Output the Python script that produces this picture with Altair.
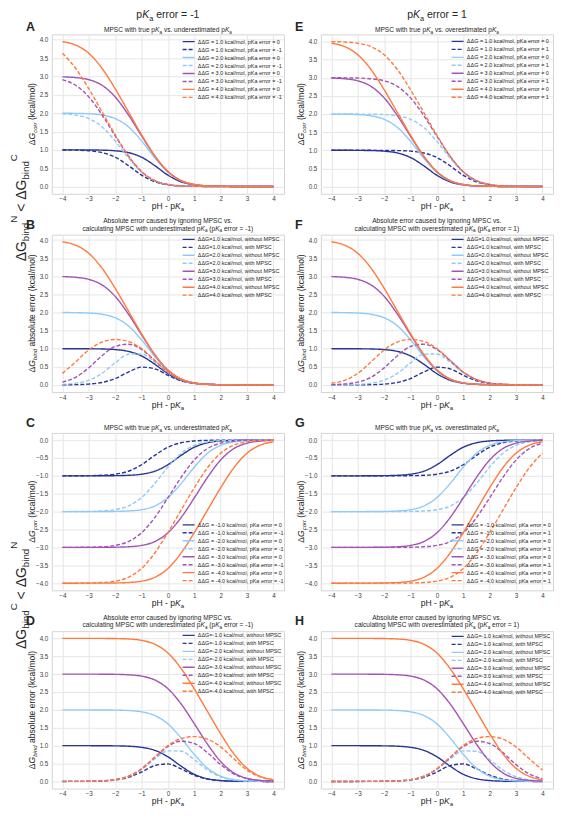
import altair as alt
import pandas as pd

# ---------------- data ----------------
X = [-4.0, -3.5, -3.0, -2.5, -2.0, -1.5, -1.0, -0.5, 0.0, 0.5, 1.0, 1.5, 2.0, 2.5, 3.0, 3.5, 4.0]
DDG = [1, 2, 3, 4]

# ddG > 0 : MPSC with true pKa (solid in A, B, E, F)
POS_TRUE = {
    1: [1.000, 0.999, 0.997, 0.992, 0.975, 0.925, 0.800, 0.572, 0.310, 0.129, 0.046, 0.015, 0.005, 0.002, 0.000, 0.000, 0.000],
    2: [1.998, 1.995, 1.984, 1.949, 1.854, 1.630, 1.246, 0.784, 0.391, 0.156, 0.054, 0.018, 0.006, 0.002, 0.001, 0.000, 0.000],
    3: [2.991, 2.971, 2.914, 2.762, 2.444, 1.957, 1.384, 0.833, 0.407, 0.162, 0.056, 0.018, 0.006, 0.002, 0.001, 0.000, 0.000],
    4: [3.951, 3.858, 3.634, 3.226, 2.668, 2.043, 1.414, 0.843, 0.410, 0.163, 0.056, 0.018, 0.006, 0.002, 0.001, 0.000, 0.000],
}
# A dashed: pKa error = -1
POS_UNDER = {
    1: [0.997, 0.992, 0.975, 0.925, 0.800, 0.572, 0.310, 0.129, 0.046, 0.015, 0.005, 0.002, 0.000, 0.000, 0.000, 0.000, 0.000],
    2: [1.984, 1.949, 1.854, 1.630, 1.246, 0.784, 0.391, 0.156, 0.054, 0.018, 0.006, 0.002, 0.001, 0.000, 0.000, 0.000, 0.000],
    3: [2.914, 2.762, 2.444, 1.957, 1.384, 0.833, 0.407, 0.162, 0.056, 0.018, 0.006, 0.002, 0.001, 0.000, 0.000, 0.000, 0.000],
    4: [3.634, 3.226, 2.668, 2.043, 1.414, 0.843, 0.410, 0.163, 0.056, 0.018, 0.006, 0.002, 0.001, 0.000, 0.000, 0.000, 0.000],
}
# E dashed: pKa error = 1
POS_OVER = {
    1: [1.000, 1.000, 1.000, 0.999, 0.997, 0.992, 0.975, 0.925, 0.800, 0.572, 0.310, 0.129, 0.046, 0.015, 0.005, 0.002, 0.000],
    2: [2.000, 2.000, 1.998, 1.995, 1.984, 1.949, 1.854, 1.630, 1.246, 0.784, 0.391, 0.156, 0.054, 0.018, 0.006, 0.002, 0.001],
    3: [2.999, 2.997, 2.991, 2.971, 2.914, 2.762, 2.444, 1.957, 1.384, 0.833, 0.407, 0.162, 0.056, 0.018, 0.006, 0.002, 0.001],
    4: [3.995, 3.984, 3.951, 3.858, 3.634, 3.226, 2.668, 2.043, 1.414, 0.843, 0.410, 0.163, 0.056, 0.018, 0.006, 0.002, 0.001],
}
# B dashed: abs. error with MPSC, pKa error = -1
POS_ERR_UNDER = {
    1: [0.003, 0.007, 0.022, 0.067, 0.175, 0.353, 0.490, 0.443, 0.264, 0.114, 0.041, 0.013, 0.005, 0.002, 0.000, 0.000, 0.000],
    2: [0.014, 0.046, 0.130, 0.319, 0.608, 0.846, 0.855, 0.628, 0.337, 0.138, 0.048, 0.016, 0.005, 0.002, 0.001, 0.000, 0.000],
    3: [0.077, 0.209, 0.470, 0.805, 1.060, 1.124, 0.977, 0.671, 0.351, 0.144, 0.050, 0.016, 0.005, 0.002, 0.001, 0.000, 0.000],
    4: [0.317, 0.632, 0.966, 1.183, 1.254, 1.200, 1.004, 0.680, 0.354, 0.145, 0.050, 0.016, 0.005, 0.002, 0.001, 0.000, 0.000],
}
# F dashed: abs. error with MPSC, pKa error = 1
POS_ERR_OVER = {
    1: [0.000, 0.001, 0.003, 0.007, 0.022, 0.067, 0.175, 0.353, 0.490, 0.443, 0.264, 0.114, 0.041, 0.013, 0.005, 0.002, 0.000],
    2: [0.002, 0.005, 0.014, 0.046, 0.130, 0.319, 0.608, 0.846, 0.855, 0.628, 0.337, 0.138, 0.048, 0.016, 0.005, 0.002, 0.001],
    3: [0.008, 0.026, 0.077, 0.209, 0.470, 0.805, 1.060, 1.124, 0.977, 0.671, 0.351, 0.144, 0.050, 0.016, 0.005, 0.002, 0.001],
    4: [0.044, 0.126, 0.317, 0.632, 0.966, 1.183, 1.254, 1.200, 1.004, 0.680, 0.354, 0.145, 0.050, 0.016, 0.005, 0.002, 0.001],
}
# ddG < 0 : MPSC with true pKa (solid in C, G)
NEG_TRUE = {
    1: [-1.000, -1.000, -1.000, -0.998, -0.995, -0.985, -0.954, -0.871, -0.690, -0.428, -0.200, -0.075, -0.025, -0.008, -0.003, -0.001, 0.000],
    2: [-2.000, -2.000, -1.999, -1.998, -1.994, -1.982, -1.946, -1.844, -1.609, -1.216, -0.754, -0.370, -0.146, -0.051, -0.016, -0.005, -0.002],
    3: [-3.000, -3.000, -2.999, -2.998, -2.994, -2.982, -2.944, -2.838, -2.593, -2.167, -1.616, -1.043, -0.556, -0.238, -0.086, -0.029, -0.009],
    4: [-4.000, -4.000, -3.999, -3.998, -3.994, -3.982, -3.944, -3.837, -3.590, -3.157, -2.586, -1.957, -1.332, -0.774, -0.366, -0.142, -0.049],
}
# C dashed: pKa error = -1
NEG_UNDER = {
    1: [-1.000, -0.998, -0.995, -0.985, -0.954, -0.871, -0.690, -0.428, -0.200, -0.075, -0.025, -0.008, -0.003, -0.001, 0.000, 0.000, 0.000],
    2: [-1.999, -1.998, -1.994, -1.982, -1.946, -1.844, -1.609, -1.216, -0.754, -0.370, -0.146, -0.051, -0.016, -0.005, -0.002, 0.000, 0.000],
    3: [-2.999, -2.998, -2.994, -2.982, -2.944, -2.838, -2.593, -2.167, -1.616, -1.043, -0.556, -0.238, -0.086, -0.029, -0.009, -0.003, -0.001],
    4: [-3.999, -3.998, -3.994, -3.982, -3.944, -3.837, -3.590, -3.157, -2.586, -1.957, -1.332, -0.774, -0.366, -0.142, -0.049, -0.016, -0.005],
}
# G dashed: pKa error = 1
NEG_OVER = {
    1: [-1.000, -1.000, -1.000, -1.000, -1.000, -0.998, -0.995, -0.985, -0.954, -0.871, -0.690, -0.428, -0.200, -0.075, -0.025, -0.008, -0.003],
    2: [-2.000, -2.000, -2.000, -2.000, -1.999, -1.998, -1.994, -1.982, -1.946, -1.844, -1.609, -1.216, -0.754, -0.370, -0.146, -0.051, -0.016],
    3: [-3.000, -3.000, -3.000, -3.000, -2.999, -2.998, -2.994, -2.982, -2.944, -2.838, -2.593, -2.167, -1.616, -1.043, -0.556, -0.238, -0.086],
    4: [-4.000, -4.000, -4.000, -4.000, -3.999, -3.998, -3.994, -3.982, -3.944, -3.837, -3.590, -3.157, -2.586, -1.957, -1.332, -0.774, -0.366],
}
# D, H solid: abs. error without MPSC
NEG_ABS = {
    1: [1.000, 1.000, 1.000, 0.998, 0.995, 0.985, 0.954, 0.871, 0.690, 0.428, 0.200, 0.075, 0.025, 0.008, 0.003, 0.001, 0.000],
    2: [2.000, 2.000, 1.999, 1.998, 1.994, 1.982, 1.946, 1.844, 1.609, 1.216, 0.754, 0.370, 0.146, 0.051, 0.016, 0.005, 0.002],
    3: [3.000, 3.000, 2.999, 2.998, 2.994, 2.982, 2.944, 2.838, 2.593, 2.167, 1.616, 1.043, 0.556, 0.238, 0.086, 0.029, 0.009],
    4: [4.000, 4.000, 3.999, 3.998, 3.994, 3.982, 3.944, 3.837, 3.590, 3.157, 2.586, 1.957, 1.332, 0.774, 0.366, 0.142, 0.049],
}
# D dashed: abs. error with MPSC, pKa error = -1
NEG_ERR_UNDER = {
    1: [0.000, 0.002, 0.005, 0.013, 0.041, 0.114, 0.264, 0.443, 0.490, 0.353, 0.175, 0.067, 0.022, 0.007, 0.003, 0.001, 0.000],
    2: [0.001, 0.002, 0.005, 0.016, 0.048, 0.138, 0.337, 0.628, 0.855, 0.846, 0.608, 0.319, 0.130, 0.046, 0.014, 0.005, 0.002],
    3: [0.001, 0.002, 0.005, 0.016, 0.050, 0.144, 0.351, 0.671, 0.977, 1.124, 1.060, 0.805, 0.470, 0.209, 0.077, 0.026, 0.008],
    4: [0.001, 0.002, 0.005, 0.016, 0.050, 0.145, 0.354, 0.680, 1.004, 1.200, 1.254, 1.183, 0.966, 0.632, 0.317, 0.126, 0.044],
}
# H dashed: abs. error with MPSC, pKa error = 1
NEG_ERR_OVER = {
    1: [0.000, 0.000, 0.000, 0.002, 0.005, 0.013, 0.041, 0.114, 0.264, 0.443, 0.490, 0.353, 0.175, 0.067, 0.022, 0.007, 0.003],
    2: [0.000, 0.000, 0.001, 0.002, 0.005, 0.016, 0.048, 0.138, 0.337, 0.628, 0.855, 0.846, 0.608, 0.319, 0.130, 0.046, 0.014],
    3: [0.000, 0.000, 0.001, 0.002, 0.005, 0.016, 0.050, 0.144, 0.351, 0.671, 0.977, 1.124, 1.060, 0.805, 0.470, 0.209, 0.077],
    4: [0.000, 0.000, 0.001, 0.002, 0.005, 0.016, 0.050, 0.145, 0.354, 0.680, 1.004, 1.200, 1.254, 1.183, 0.966, 0.632, 0.317],
}

X_TICKS = [-4, -3, -2, -1, 0, 1, 2, 3, 4]
Y_TICKS_POS = [0.0, 0.5, 1.0, 1.5, 2.0, 2.5, 3.0, 3.5, 4.0]
Y_TICKS_NEG = [-4.0, -3.5, -3.0, -2.5, -2.0, -1.5, -1.0, -0.5, 0.0]

# ---------------- styling ----------------
FONT = "Liberation Sans"
INK = "#262626"
COLORS = {1: "#283593", 2: "#90caf9", 3: "#a354b3", 4: "#ff7a3c"}
SOLID = [1, 0]
DASHED = [4, 2]
W = 233
HEIGHTS = [160, 158, 158, 158]
ONE = pd.DataFrame({"k": [0]})

ADV = {" ": .278, "(": .333, ")": .333, ",": .278, "-": .333, ".": .278, "/": .278, "<": .584, "=": .584,
       "A": .667, "B": .667, "C": .722, "D": .722, "E": .667, "F": .611, "G": .778, "H": .722, "I": .278,
       "K": .667, "M": .833, "N": .722, "P": .667, "S": .667,
       "a": .556, "b": .556, "c": .5, "d": .556, "e": .556, "f": .278, "g": .556, "h": .556, "i": .222,
       "k": .5, "l": .222, "m": .833, "n": .556, "o": .556, "p": .556, "r": .333, "s": .5, "t": .278,
       "u": .556, "v": .5, "w": .722, "x": .5, "y": .5, "\u0394": .668}


def tw(s, size):
    return sum(ADV.get(c, 0.556) for c in s) * size


def rich(segs, x, y, size, angle=0, anchor="middle", bold=False):
    total = sum(tw(t, size * sc) for t, it, sc, sh in segs)
    pos = {"middle": -total / 2, "start": 0, "end": -total}[anchor]
    out = []
    for t, it, sc, sh in segs:
        fs = size * sc
        lead = len(t) - len(t.lstrip(" "))
        p0 = pos + lead * 0.278 * fs
        if angle == 0:
            px, py = x + p0, y + sh * size
        else:
            px, py = x + sh * size, y - p0
        out.append(
            alt.Chart(ONE).mark_text(
                text=t.strip(" "), align="left", baseline="alphabetic", font=FONT, fontSize=fs,
                fontStyle="italic" if it else "normal", fontWeight="bold" if bold else "normal",
                angle=angle, color=INK,
            ).encode(x=alt.value(px), y=alt.value(py))
        )
        pos += tw(t, fs)
    return out


def pka(italic_a=False):
    return [("K", True, 1, 0), ("a", italic_a, 0.7, 0.25)]


def panel(key, row, col, series, ydom, yticks, legend_y, title_lines, ysub, yrest, col_title=None, left_label=None):
    H = HEIGHTS[row]
    recs = []
    labels, colors, dashes = [], [], []
    for lab, vals, colr, dash in series:
        labels.append(lab)
        colors.append(colr)
        dashes.append(dash)
        for xv, yv in zip(X, vals):
            recs.append({"x": xv, "y": yv, "s": lab})
    df = pd.DataFrame(recs)
    leg = alt.Legend(orient="none", legendX=134.5, legendY=legend_y, title=None, labelFontSize=5.5,
                     labelFont=FONT, labelColor=INK, symbolType="M-4,0H4", symbolSize=9,
                     symbolStrokeWidth=1.4, rowPadding=0, labelOffset=6.5, padding=0,
                     labelLimit=300, symbolLimit=0)
    lines = alt.Chart(df).mark_line(interpolate="monotone", strokeWidth=1.4, clip=True).encode(
        x=alt.X("x:Q", scale=alt.Scale(domain=[-4.4, 4.4], nice=False, zero=False),
                axis=alt.Axis(values=X_TICKS, format="d", title=None, labelPadding=2)),
        y=alt.Y("y:Q", scale=alt.Scale(domain=ydom, nice=False, zero=False),
                axis=alt.Axis(values=yticks, format=".1f", title=None, labelPadding=4)),
        color=alt.Color("s:N", scale=alt.Scale(domain=labels, range=colors), legend=leg),
        strokeDash=alt.StrokeDash("s:N", scale=alt.Scale(domain=labels, range=dashes), legend=leg),
    )
    layers = [lines]
    # panel letter
    letter_y = -3.0 if row == 0 else -6.0
    layers += rich([(key, False, 1, 0)], -26, letter_y, 12.5, anchor="start", bold=True)
    # panel title
    if len(title_lines) == 1:
        layers += rich(title_lines[0], W / 2, -2.5, 6.6)
    else:
        layers += rich(title_lines[0], W / 2, -11.5, 6.6)
        layers += rich(title_lines[1], W / 2, -4, 6.6)
    # axis titles
    layers += rich([("\u0394", False, 1, 0), ("G", True, 1, 0), (ysub, True, 0.7, 0.25), (yrest, False, 1, 0)],
                   -17, H / 2, 8.6, angle=270)
    layers += rich([("pH - p", False, 1, 0)] + pka(), W / 2, H + 15.5, 8.6)
    if col_title:
        layers += rich([("p", False, 1, 0)] + pka() + [(col_title, False, 1, 0)], W / 2, -16, 10.5)
    if left_label:
        cy, a, b = left_label
        segs = [("\u0394G", False, 1, 0), ("bind", False, 0.7, 0.25), (a, False, 0.7, -0.65),
                (" < ", False, 1, 0), ("\u0394G", False, 1, 0), ("bind", False, 0.7, 0.25), (b, False, 0.7, -0.65)]
        layers += rich(segs, -26, cy, 14, angle=270)
    return alt.layer(*layers).properties(width=W, height=H)


def series_pkerr(true_d, other_d, sign, other_tag):
    out = []
    for d in DDG:
        dd = f"{sign}{d:.1f}"
        out.append((f"\u0394\u0394G = {dd} kcal/mol, pKa error =  0", true_d[d], COLORS[d], SOLID))
        out.append((f"\u0394\u0394G = {dd} kcal/mol, pKa error = {other_tag}", other_d[d], COLORS[d], DASHED))
    return out


def series_err(without_d, with_d, sign):
    out = []
    for d in DDG:
        dd = f"{sign}{d:.1f}"
        out.append((f"\u0394\u0394G={dd} kcal/mol, without MPSC", without_d[d], COLORS[d], SOLID))
        out.append((f"\u0394\u0394G={dd} kcal/mol, with MPSC", with_d[d], COLORS[d], DASHED))
    return out


N = (False, 1, 0)
T_UNDER = [[("MPSC with true p", *N)] + pka() + [(" vs. underestimated p", *N)] + pka()]
T_OVER = [[("MPSC with true p", *N)] + pka() + [(" vs. overestimated p", *N)] + pka()]
T_ERR_UNDER = [[("Absolute error caused by ignoring MPSC vs.", *N)],
               [("calculating MPSC with underestimated p", *N)] + pka() + [(" (p", *N)] + pka() + [(" error = -1)", *N)]]
T_ERR_OVER = [[("Absolute error caused by ignoring MPSC vs.", *N)],
              [("calculating MPSC with overestimated p", *N)] + pka() + [(" (p", *N)] + pka() + [(" error = 1)", *N)]]

YD_A = [-0.198, 4.149]
YD_E = [-0.2, 4.195]
YD_NEG = [-4.2, 0.2]
YD_D = [-0.2, 4.2]

A = panel("A", 0, 0, series_pkerr(POS_TRUE, POS_UNDER, "", "-1"), YD_A, Y_TICKS_POS, 4.5, T_UNDER,
          "corr", " (kcal/mol)", col_title=" error = -1", left_label=(174, "N", "C"))
E = panel("E", 0, 1, series_pkerr(POS_TRUE, POS_OVER, "", " 1"), YD_E, Y_TICKS_POS, 4.3, T_OVER,
          "corr", " (kcal/mol)", col_title=" error = 1")
B = panel("B", 1, 0, series_err(POS_TRUE, POS_ERR_UNDER, ""), YD_A, Y_TICKS_POS, 2.0, T_ERR_UNDER,
          "bind", " absolute error (kcal/mol)")
F = panel("F", 1, 1, series_err(POS_TRUE, POS_ERR_OVER, ""), YD_A, Y_TICKS_POS, 2.0, T_ERR_OVER,
          "bind", " absolute error (kcal/mol)")
C = panel("C", 2, 0, series_pkerr(NEG_TRUE, NEG_UNDER, "-", "-1"), YD_NEG, Y_TICKS_NEG, 89.5, T_UNDER,
          "corr", " (kcal/mol)", left_label=(163, "C", "N"))
G = panel("G", 2, 1, series_pkerr(NEG_TRUE, NEG_OVER, "-", " 1"), YD_NEG, Y_TICKS_NEG, 89.5, T_OVER,
          "corr", " (kcal/mol)")
D = panel("D", 3, 0, series_err(NEG_ABS, NEG_ERR_UNDER, "-"), YD_D, Y_TICKS_POS, 1.5, T_ERR_UNDER,
          "bind", " absolute error (kcal/mol)")
Hh = panel("H", 3, 1, series_err(NEG_ABS, NEG_ERR_OVER, "-"), YD_D, Y_TICKS_POS, 2.5, T_ERR_OVER,
           "bind", " absolute error (kcal/mol)")

chart = alt.concat(A, E, B, F, C, G, D, Hh, columns=2,
                   spacing=alt.RowColnumber(row=41, column=37), bounds="flush").resolve_scale(
    x="independent", y="independent", color="independent", strokeDash="independent"
).resolve_legend(color="independent", strokeDash="independent").properties(
    padding=0, background="white"
).configure_view(
    stroke="#d4d4d4", strokeWidth=1
).configure_axis(
    grid=True, gridColor="#e6e6e6", gridWidth=1, domain=False, ticks=False, tickSize=0,
    labelFont=FONT, labelFontSize=6.3, labelColor="#404040"
)

chart.save("out.html", embed_options={"renderer": "svg", "actions": False})
